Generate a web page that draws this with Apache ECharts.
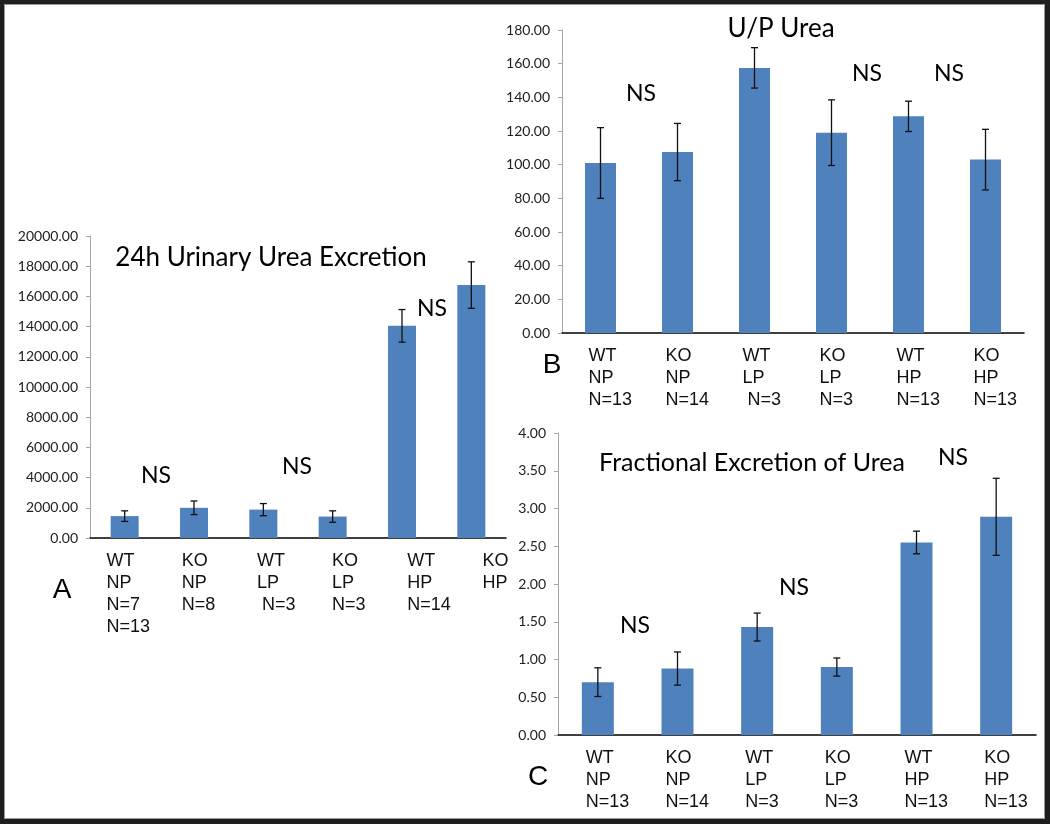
<!DOCTYPE html>
<html>
<head>
<meta charset="utf-8">
<script src="https://cdn.jsdelivr.net/npm/echarts@6/dist/echarts.min.js"></script>
<style>
html,body{margin:0;padding:0;background:#1e1e1e;}
#frame{position:absolute;left:4px;top:4px;width:1041px;height:815px;background:#fff;border:1px solid #9a9a9a;box-sizing:border-box;}
#chart{position:absolute;left:0;top:0;width:1050px;height:824px;}
</style>
</head>
<body>
<div id="frame"></div>
<div id="chart"></div>
<script>
// ---- Data ----
var catsA = ['WT\nNP\nN=7\nN=13', 'KO\nNP\nN=8', 'WT\nLP\n N=3', 'KO\nLP\nN=3', 'WT\nHP\nN=14', 'KO\nHP'];
var meansA = [1450, 2000, 1880, 1420, 14050, 16750];
var errA = [350, 450, 400, 380, 1080, 1540];

var catsB = ['WT\nNP\nN=13', 'KO\nNP\nN=14', 'WT\nLP\n N=3', 'KO\nLP\nN=3', 'WT\nHP\nN=13', 'KO\nHP\nN=13'];
var meansB = [101, 107.5, 157.5, 119, 128.7, 103];
var errB = [21, 17, 12, 19.5, 9, 18];

var catsC = ['WT\nNP\nN=13', 'KO\nNP\nN=14', 'WT\nLP\nN=3', 'KO\nLP\nN=3', 'WT\nHP\nN=13', 'KO\nHP\nN=13'];
var meansC = [0.70, 0.88, 1.43, 0.90, 2.55, 2.89];
var errC = [0.19, 0.22, 0.185, 0.12, 0.15, 0.51];

var titleA = '24h Urinary Urea Excretion';
var titleB = 'U/P Urea';
var titleC = 'Fractional Excretion of Urea';
var sigLabel = 'NS';

// ---- Styles ----
var BAR = '#4F81BD';
var titleFont = 'Lato, "Open Sans", sans-serif';
var labelFont = '"Liberation Sans", Arial, sans-serif';

function catLabel(show) {
  return {
    show: show, interval: 0, margin: 12,
    formatter: function (v) {
      return v.split('\n').map(function (l) { return '{a|' + l + '}'; }).join('\n');
    },
    rich: { a: { width: 24, align: 'left', fontSize: 18, lineHeight: 22, fontFamily: labelFont, color: '#111' } }
  };
}
function yAx(grid, max, interval) {
  return {
    type: 'value', gridIndex: grid, min: 0, max: max, interval: interval,
    axisLine: { show: true, lineStyle: { color: '#a6a6a6', width: 1 } },
    axisTick: { show: true, length: 4, lineStyle: { color: '#a6a6a6' } },
    splitLine: { show: false },
    axisLabel: { formatter: function (v) { return v.toFixed(2); }, fontFamily: titleFont, fontSize: 14, color: '#222', margin: 12 }
  };
}
function xAx(grid, cats, showLabel, showLine) {
  return {
    type: 'category', gridIndex: grid, data: cats,
    axisLine: { show: showLine, lineStyle: { color: '#000', width: 1.5 } },
    axisTick: { show: false },
    axisLabel: catLabel(showLabel)
  };
}
function barSeries(ax, data, w) {
  return { type: 'bar', xAxisIndex: ax, yAxisIndex: ax, data: data, barWidth: w,
    itemStyle: { color: BAR }, z: 2, silent: true };
}
function errSeries(ax, means, errs) {
  return {
    type: 'custom', xAxisIndex: ax, yAxisIndex: ax, z: 5, silent: true,
    data: means.map(function (m, i) { return [i, m, errs[i]]; }),
    renderItem: function (params, api) {
      var i = api.value(0), m = api.value(1), e = api.value(2);
      var hi = api.coord([i, m + e]), lo = api.coord([i, m - e]);
      var hw = 3.5, st = { stroke: '#111', lineWidth: 1.3 };
      return { type: 'group', children: [
        { type: 'line', shape: { x1: hi[0], y1: hi[1], x2: lo[0], y2: lo[1] }, style: st },
        { type: 'line', shape: { x1: hi[0] - hw, y1: hi[1], x2: hi[0] + hw, y2: hi[1] }, style: st },
        { type: 'line', shape: { x1: lo[0] - hw, y1: lo[1], x2: lo[0] + hw, y2: lo[1] }, style: st }
      ] };
    }
  };
}
function txt(t, x, y, size, font) {
  return { type: 'text', x: x, y: y, z: 10, silent: true,
    style: { text: t, fontSize: size, fontFamily: font, fill: '#000', align: 'center', verticalAlign: 'middle' } };
}

var chart = echarts.init(document.getElementById('chart'));
chart.setOption({
  animation: false,
  grid: [
    { left: 90, top: 236, width: 416, height: 302 },   // A bars
    { left: 562, top: 30, width: 462, height: 303 },   // B
    { left: 558, top: 433, width: 478, height: 302 },  // C
    { left: 81, top: 236, width: 451, height: 302 }    // A labels
  ],
  xAxis: [
    xAx(0, catsA, false, true),
    xAx(1, catsB, true, true),
    xAx(2, catsC, true, true),
    xAx(3, catsA, true, false)
  ],
  yAxis: [
    yAx(0, 20000, 2000),
    yAx(1, 180, 20),
    yAx(2, 4, 0.5),
    { type: 'value', gridIndex: 3, show: false, min: 0, max: 1 }
  ],
  series: [
    barSeries(0, meansA, 28), errSeries(0, meansA, errA),
    barSeries(1, meansB, 31), errSeries(1, meansB, errB),
    barSeries(2, meansC, 32), errSeries(2, meansC, errC)
  ],
  graphic: [
    txt(titleA, 271, 258, 26, titleFont),
    txt(sigLabel, 156, 476, 23, titleFont),
    txt(sigLabel, 297, 467, 23, titleFont),
    txt(sigLabel, 432, 309, 23, titleFont),
    txt('A', 62, 590, 28, labelFont),
    txt(titleB, 781, 29, 26, titleFont),
    txt(sigLabel, 641, 94, 23, titleFont),
    txt(sigLabel, 867, 74, 23, titleFont),
    txt(sigLabel, 949, 74, 23, titleFont),
    txt('B', 552, 365, 28, labelFont),
    txt(titleC, 752, 463, 25, titleFont),
    txt(sigLabel, 635, 626, 23, titleFont),
    txt(sigLabel, 794, 588, 23, titleFont),
    txt(sigLabel, 953, 458, 23, titleFont),
    txt('C', 538, 777, 28, labelFont)
  ]
});
</script>
</body>
</html>
